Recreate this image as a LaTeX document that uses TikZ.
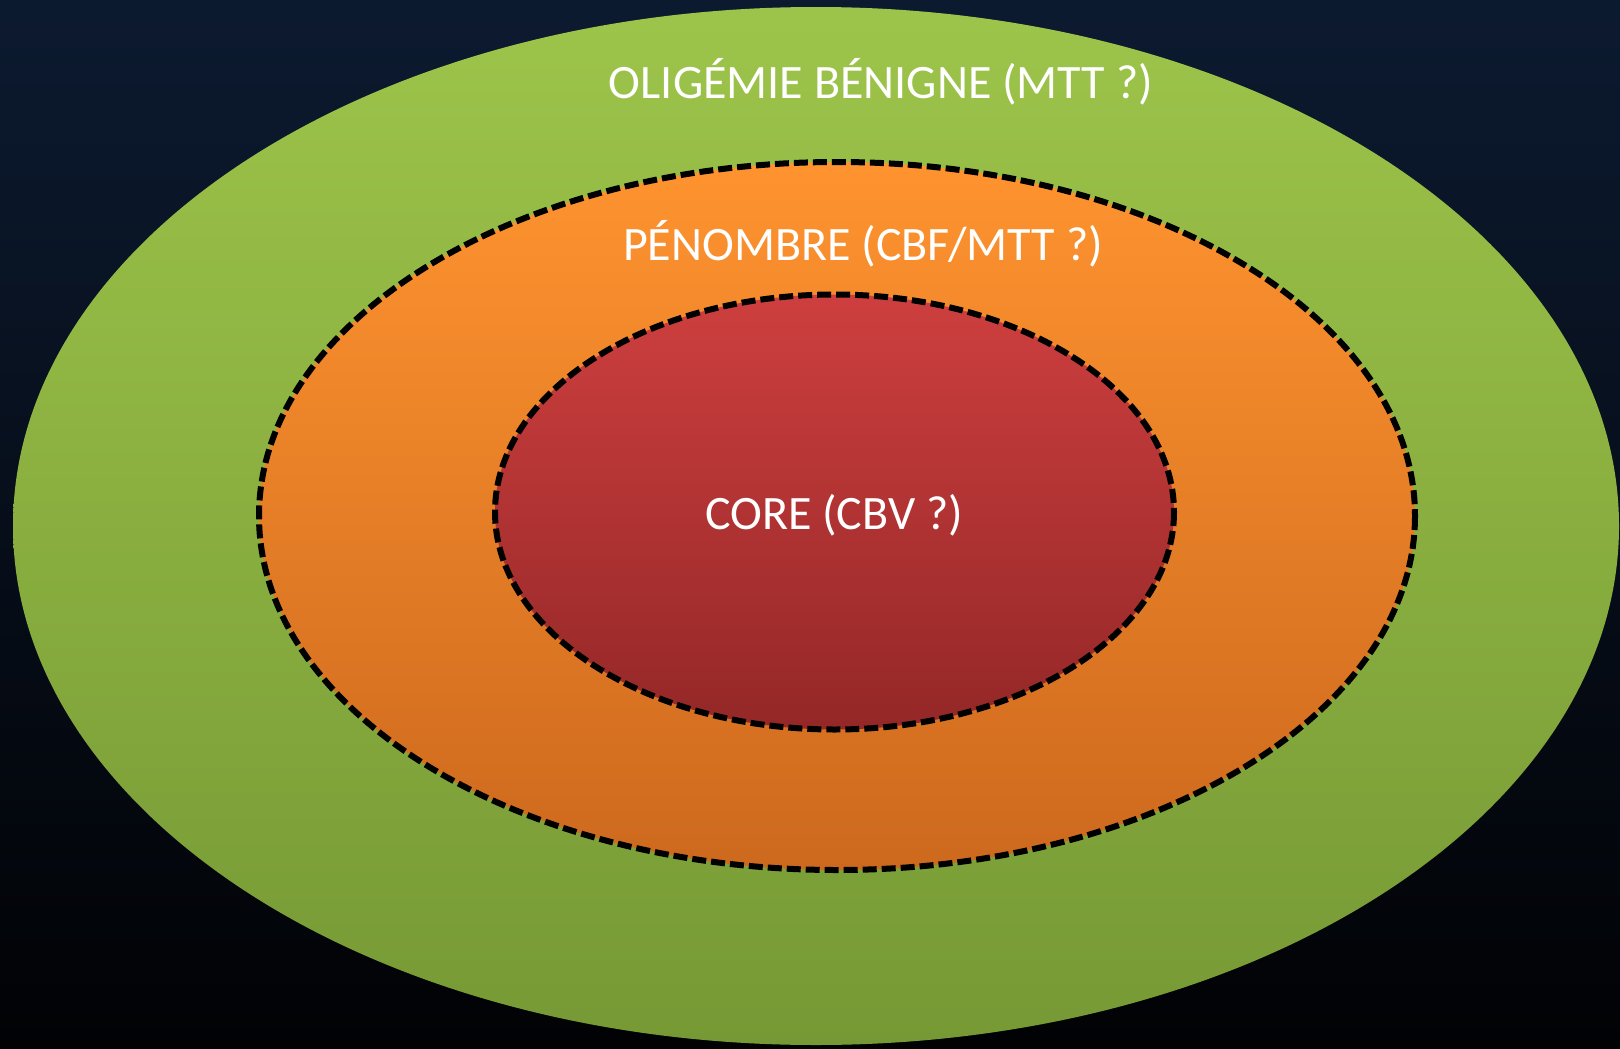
\documentclass[tikz,border=0pt]{standalone}
\usepackage{fontspec}
\setmainfont{Carlito}
\definecolor{bgtop}{HTML}{0C1A30}
\definecolor{bgbot}{HTML}{010204}
\definecolor{greentop}{HTML}{9DC44A}
\definecolor{greenbot}{HTML}{769935}
\definecolor{orangetop}{HTML}{FE932F}
\definecolor{orangebot}{HTML}{CD691E}
\definecolor{redtop}{HTML}{CE3F3F}
\definecolor{redbot}{HTML}{942727}
\tikzset{
  zoneborder/.style={draw=black, line width=6pt, dash pattern=on 14pt off 5pt},
  zonelabel/.style={text=white, font=\fontsize{48}{54}\selectfont, inner sep=0pt}
}
\begin{document}
\begin{tikzpicture}[x=1pt,y=-1pt]
\useasboundingbox (0,0) rectangle (1620,1049);
\shade[top color=bgtop, bottom color=bgbot] (0,0) rectangle (1620,1049);
\shade[top color=greentop, bottom color=greenbot] (816,526) ellipse [x radius=803, y radius=519];
\shade[top color=orangetop, bottom color=orangebot] (837,516) ellipse [x radius=578, y radius=354];
\draw[zoneborder] (837,516) ellipse [x radius=578, y radius=354];
\shade[top color=redtop, bottom color=redbot] (834.5,512) ellipse [x radius=339.5, y radius=217.5];
\draw[zoneborder] (834.5,512) ellipse [x radius=339.5, y radius=217.5];
\node[zonelabel] (oligemie) at (881,82) {OLIGÉMIE BÉNIGNE (MTT ?)};
\node[zonelabel] (penombre) at (863,244) {PÉNOMBRE (CBF/MTT ?)};
\node[zonelabel] (core) at (834,515) {CORE (CBV ?)};
\end{tikzpicture}
\end{document}
